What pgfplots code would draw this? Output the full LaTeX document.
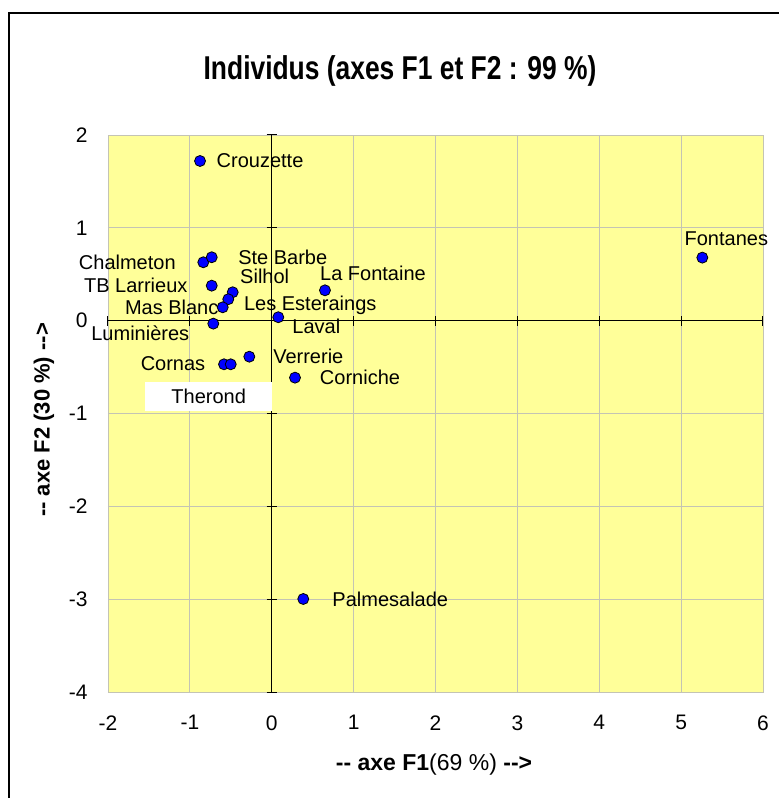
\documentclass[border=0pt]{standalone}
\usepackage{fontspec}
\setmainfont{Liberation Sans}
\usepackage{pgfplots}
\usepackage{pgfplotstable}
\pgfplotsset{compat=1.18}

\definecolor{plotbg}{RGB}{255,255,153}
\definecolor{gridc}{RGB}{196,196,180}
\definecolor{ptblue}{RGB}{0,0,255}

% x, y = F1, F2 coordinates; dx, dy = label offset (pt)
\pgfplotstableread[col sep=comma]{
x,y,dx,dy,label
-0.876,1.720,60,0,Crouzette
-0.836,0.629,-76,0,Chalmeton
-0.733,0.683,71,0,Ste Barbe
-0.733,0.377,-76,0,TB Larrieux
-0.477,0.306,32,16,Silhol
-0.531,0.231,82,-6,Les Esteraings
-0.599,0.144,-51,0,Mas Blanc
0.650,0.327,48,17,La Fontaine
0.080,0.037,38,-9,Laval
-0.714,-0.032,-73,-10,Luminières
-0.274,-0.388,59,0,Verrerie
-0.583,-0.470,-51,1,Cornas
0.284,-0.614,65,0,Corniche
5.259,0.679,24,19,Fontanes
0.385,-2.998,87,0,Palmesalade
}\individus

\begin{document}
\begin{tikzpicture}
\useasboundingbox (-108pt,-106pt) rectangle (671pt,692pt);
\fill[white] (-108pt,-106pt) rectangle (671pt,692pt);
\draw[line width=2pt] (-99pt,-120pt) -- (-99pt,679pt) -- (690pt,679pt);

\begin{axis}[
    at={(0pt,0pt)}, anchor=south west,
    scale only axis,
    width=655pt, height=557pt,
    xmin=-2, xmax=6, ymin=-4, ymax=2,
    xtick={-2,...,6}, ytick={-4,...,2},
    grid=major,
    major grid style={gridc, line width=0.8pt},
    axis background/.style={fill=plotbg},
    axis line style={draw=gridc},
    major tick length=0pt,
    tick label style={font=\fontsize{21}{25}\selectfont},
    /pgf/number format/assume math mode=true,
    xticklabel style={yshift=-20pt},
    yticklabel style={xshift=-17pt},
    clip=false,
]
% zero axes with cross ticks
\draw[black, line width=1pt] (axis cs:0,-4) -- (axis cs:0,2);
\draw[black, line width=1pt] (axis cs:-2,0) -- (axis cs:6,0);
\pgfplotsinvokeforeach{-4,...,2}{
  \draw[black, line width=1pt] ([xshift=-5pt]axis cs:0,#1) -- ([xshift=5pt]axis cs:0,#1);
}
\pgfplotsinvokeforeach{-2,...,6}{
  \draw[black, line width=1pt] ([yshift=-5pt]axis cs:#1,0) -- ([yshift=5pt]axis cs:#1,0);
}

\addplot[only marks, mark=*, mark size=5.5pt,
    mark options={fill=ptblue, draw=black, line width=0.8pt},
    visualization depends on={\thisrow{dx} \as \lblx},
    visualization depends on={\thisrow{dy} \as \lbly},
    nodes near coords, point meta=explicit symbolic,
    nodes near coords style={anchor=center, inner sep=0pt,
        xshift=\lblx pt, yshift=\lbly pt,
        font=\fontsize{20}{24}\selectfont}]
  table[x=x, y=y, meta=label] {\individus};

\addplot[only marks, mark=*, mark size=5.5pt,
    mark options={fill=ptblue, draw=black, line width=0.8pt},
    nodes near coords={Therond},
    nodes near coords style={anchor=center, fill=white,
        inner xsep=26pt, inner ysep=7pt,
        xshift=-22pt, yshift=-32pt,
        font=\fontsize{20}{24}\selectfont}]
  coordinates {(-0.501,-0.470)};
\end{axis}

\node[font=\bfseries\fontsize{33}{38}\selectfont] at (292pt,621pt)
  {\scalebox{0.8}[1]{Individus (axes F1 et F2 : 99 \%)}};
\node[font=\fontsize{23}{27}\selectfont] at (326pt,-73pt)
  {\textbf{-{}- axe F1}(69 \%) \textbf{-{}->}};
\node[font=\bfseries\fontsize{22}{26}\selectfont, rotate=90] at (-64pt,272pt)
  {-{}- axe F2 (30 \%) -{}->};
\end{tikzpicture}
\end{document}
